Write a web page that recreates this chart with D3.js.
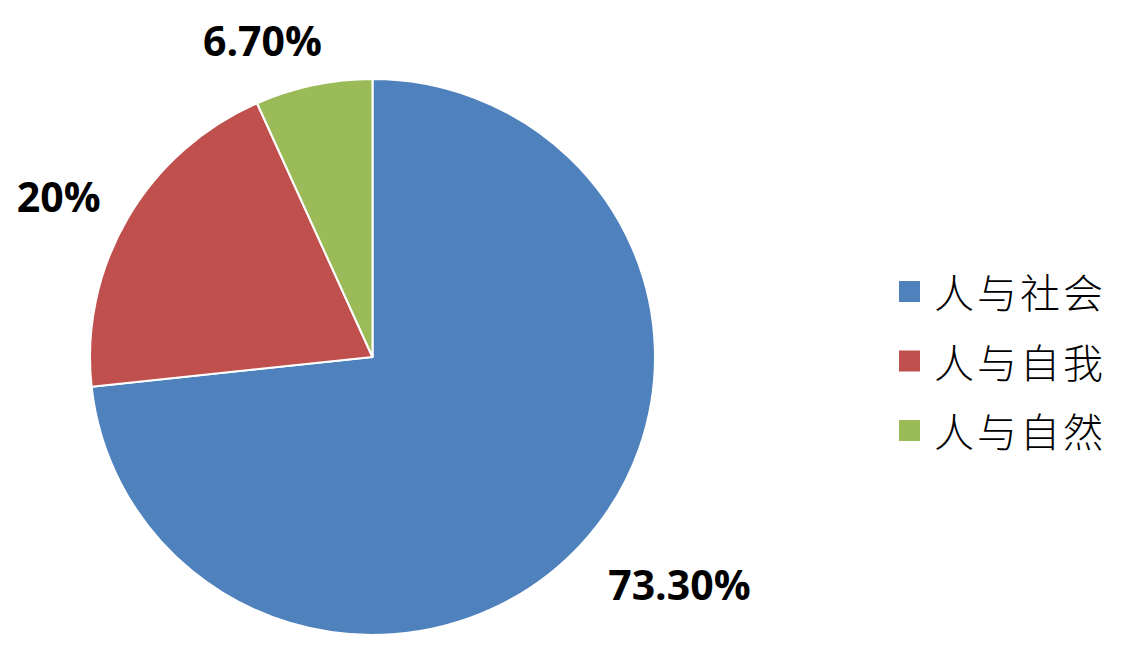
<!DOCTYPE html>
<html>
<head>
<meta charset="utf-8">
<script src="https://cdn.jsdelivr.net/npm/d3@7"></script>
<style>
  body { margin: 0; background: #fff; }
  svg { display: block; }
</style>
</head>
<body>
<div id="viz-container"></div>
<script>
// data
let categories = ['人与社会', '人与自我', '人与自然'];
let values = [73.3, 20, 6.7];
let valueLabels = ['73.30%', '20%', '6.70%'];
let colors = ['#4F81BD', '#C0504D', '#9BBB59'];

let width = 1122, h = 653;
let cx = 372.5, cy = 357, radius = 278;
let stretchX = 282.5 / 278; // the source pie is a touch wider than tall
let labelR = 340;
// nudges to mimic where Excel dropped the labels
let labelNudge = { '人与社会': [54, 0], '人与自我': [-19, 8], '人与自然': [-39, 15] };

let viz = d3.select('#viz-container')
    .append('svg')
    .attr('width', width)
    .attr('height', h);

let data = categories.map((c, i) => ({ cat: c, value: values[i], label: valueLabels[i], color: colors[i] }));

let pie = d3.pie().sort(null).value(d => d.value);
let arc = d3.arc().innerRadius(0).outerRadius(radius);
let labelArc = d3.arc().innerRadius(labelR).outerRadius(labelR);

let g = viz.append('g').attr('transform', `translate(${cx},${cy})`);

let arcs = pie(data);

g.append('g')
    .attr('transform', `scale(${stretchX},1)`)
    .selectAll('path').data(arcs).enter()
    .append('path')
    .attr('d', arc)
    .attr('fill', d => d.data.color)
    .attr('stroke', '#fff')
    .attr('stroke-width', 2)
    .attr('stroke-linejoin', 'round');

g.selectAll('text.lbl').data(arcs).enter()
    .append('text')
    .attr('class', 'lbl')
    .attr('x', d => labelArc.centroid(d)[0] + labelNudge[d.data.cat][0])
    .attr('y', d => labelArc.centroid(d)[1] + labelNudge[d.data.cat][1])
    .attr('text-anchor', 'middle')
    .attr('dominant-baseline', 'central')
    .attr('font-family', '"Open Sans", sans-serif')
    .attr('font-weight', 'bold')
    .attr('font-size', '41px')
    .attr('fill', '#000')
    .text(d => d.data.label);

// legend
let legend = viz.append('g').attr('transform', 'translate(899,291)');
let rowY = d3.scalePoint().domain(categories).range([0, 139]);

let rows = legend.selectAll('g').data(data).enter()
    .append('g')
    .attr('transform', d => `translate(0,${rowY(d.cat)})`);

rows.append('rect')
    .attr('x', 0)
    .attr('y', -10)
    .attr('width', 21)
    .attr('height', 21)
    .attr('fill', d => d.color);

rows.append('text')
    .attr('x', 35)
    .attr('y', 0)
    .attr('dominant-baseline', 'central')
    .attr('font-family', '"Noto Sans CJK SC", sans-serif')
    .attr('font-weight', 300)
    .attr('font-size', '40px')
    .attr('letter-spacing', '3px')
    .attr('fill', '#000')
    .text(d => d.cat);
</script>
</body>
</html>
